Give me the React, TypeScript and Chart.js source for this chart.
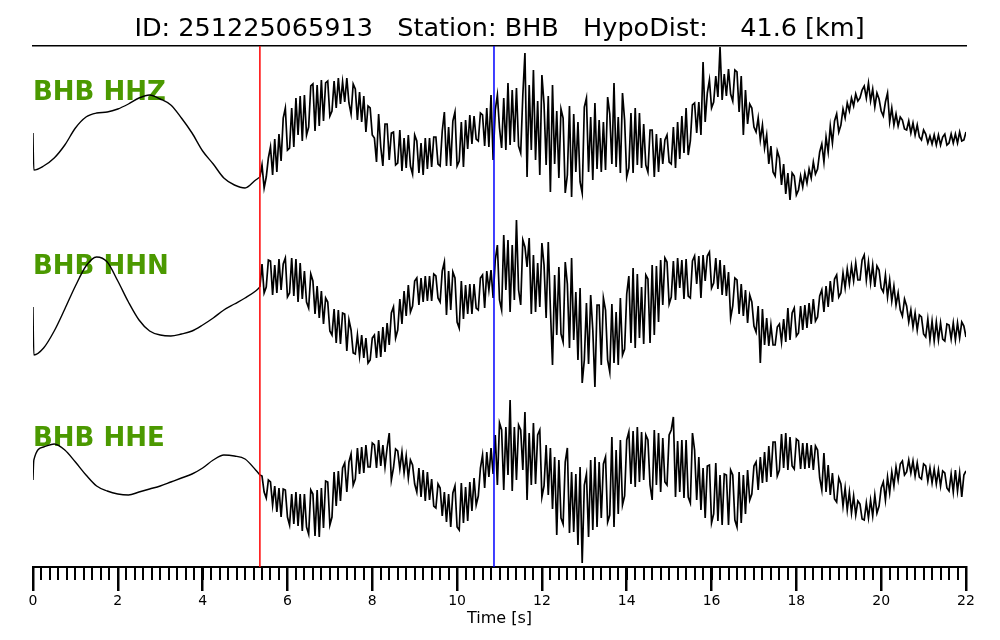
import React, { useEffect, useRef } from 'react';
import { Chart, registerables } from 'chart.js';

Chart.register(...registerables);

// ---------------- data ----------------
const titleText = 'ID: 251225065913   Station: BHB   HypoDist:    41.6 [km]';
const traceNames = ['BHB HHZ', 'BHB HHN', 'BHB HHE'];
const axisTitle = 'Time [s]';
const majorTicks = [0, 2, 4, 6, 8, 10, 12, 14, 16, 18, 20, 22];
const minorTickStep = 0.2;
const timeMin = 0;
const timeMax = 22;

// picks (s)
const pPick = 5.35;
const sPick = 10.87;

// quiet part of the record (before the P pick), sample times in s
const quietTimes = [0, 0.02, 0.25, 0.5, 0.75, 1, 1.25, 1.5, 1.75, 2, 2.25, 2.5, 2.75, 3, 3.25, 3.5, 3.75, 4, 4.25, 4.5, 4.75, 5, 5.25];
const hhzQuiet = [-3, -40, -36, -28, -15, 2, 13, 17, 18, 21, 26, 32, 35, 31, 25, 12, -3, -21, -34, -48, -55, -58, -50];
const hhnQuiet = [-7, -55, -48, -31, -9, 14, 34, 43, 38, 19, -2, -20, -31, -35, -36, -34, -31, -25, -18, -10, -4, 2, 9];
const hheQuiet = [-10, 10, 23, 26, 20, 8, -5, -16, -21, -24, -25, -22, -19, -16, -12, -8, -4, 2, 10, 15, 14, 11, 0];

// dense part of the record, from the P pick on, one sample every 0.05 s
const noisyStart = 5.35;
const noisyStep = 0.05;
const hhzNoisy = [
  -47, -35, -58, -47, -28, -17, -45, -9, -42, -4, -31, 12, 22, -20, -18, 22, -17, 32, -5, 34,
  -11, 35, -5, 3, 44, 46, -1, 45, 4, 50, 9, 47, 49, 14, 19, 49, 22, 52, 26, 48,
  28, 52, 27, 16, 46, 41, 10, 38, 8, 34, -2, 24, 22, -5, -8, -32, 16, -17, -36, 6,
  6, -30, -3, -2, -35, -33, 0, -41, -8, -38, -5, -36, -44, -5, -11, -43, -13, -45, -8, -39,
  -8, -37, -7, -7, -34, -36, -1, 18, -36, 3, -36, 9, 18, -36, -31, 8, -37, 10, -19, 15,
  -14, 14, -9, -11, 17, 15, -16, 22, -17, 35, -30, 20, 35, 2, -18, 32, -20, 47, -15, 40,
  -12, 42, -16, -23, 35, 77, -47, 45, -20, 60, -30, 29, -45, 55, 26, -35, 34, -62, 45, -34,
  19, -48, 21, 12, -63, -45, 24, -67, 16, -42, 8, -52, -63, 23, 32, -42, 13, -50, 27, -39,
  10, -42, 8, -40, 33, 16, -34, 47, -37, 13, -43, 37, 10, -47, -38, 17, -43, 22, -35, 17,
  -38, 6, -35, -42, 0, 0, -47, -4, -42, -8, -34, -10, -5, -32, -34, 3, -38, 8, -29, 14,
  -23, 22, -25, -11, 25, 27, -3, 28, -5, 68, 8, 37, 50, 22, 28, 54, 33, 83, 30, 56,
  34, 61, 36, 29, 60, 58, 18, 54, -5, 40, 6, 26, 22, 3, -2, 12, -10, 5, -18, -5,
  -34, -16, -42, -46, -21, -28, -55, -34, -64, -43, -70, -43, -46, -65, -60, -46, -57, -43, -53, -39,
  -48, -32, -44, -39, -22, -14, -32, -7, -22, 4, -13, 9, 16, -2, 5, 21, 12, 27, 19, 32,
  24, 36, 29, 32, 40, 44, 32, 47, 29, 41, 23, 37, 31, 19, 14, 28, 37, 8, 22, 5,
  16, 4, 13, 10, 1, 0, 9, -3, 7, -5, 5, -7, -10, 0, -4, -13, -6, -14, -5, -15,
  -5, -15, -7, -4, -15, -13, -4, -13, -4, -13, -2, -11, -10, -2,
];
const hhnNoisy = [
  13, 36, 7, 13, 40, 39, 5, 35, 7, 41, 10, 36, 42, 3, 7, 42, 4, 41, -2, 37,
  1, 29, -2, -8, 26, 19, -14, 14, -18, 9, -24, 2, -2, -31, -35, -9, -43, -10, -44, -13,
  -14, -51, -20, -30, -53, -54, -35, -56, -35, -58, -38, -63, -60, -38, -35, -58, -31, -57, -27, -52,
  -23, -45, -13, -7, -38, -30, 1, -24, 9, -16, 15, -12, -6, 19, 22, -5, 22, -2, 24, -1,
  24, -1, 26, 24, 2, -2, 29, 38, -15, 29, -10, 28, 22, -22, -28, 19, -19, 15, -14, 16,
  -14, 16, -8, -10, 22, 25, -8, 29, 10, 30, 2, 40, 55, 0, -10, 65, 10, 60, -12, 55,
  0, 80, 10, -5, 60, 53, 33, 62, -14, 45, -12, 37, -7, 57, 35, -18, 58, -9, -65, 25,
  -35, 33, -34, -42, 38, 16, -48, 42, -40, 8, -60, 12, -83, -60, -3, -64, 5, -30, -87, -5,
  -5, -65, 2, -10, -60, -72, -4, -63, -12, -65, 2, -55, -49, 6, 24, -43, 32, -48, 26, -38,
  13, -44, 25, 21, -43, 35, -35, 34, -22, 40, -5, 42, 38, -4, 3, 39, 0, 42, 12, 40,
  1, 41, 4, 2, 39, 44, 16, 44, 2, 45, 19, 44, 48, 12, 17, 42, 11, 40, 5, 35,
  4, 28, -18, -6, 22, 20, -14, 16, -16, 10, -23, 5, -2, -26, -32, -6, -63, -9, -45, -18,
  -46, -25, -45, -45, -27, -24, -42, -19, -42, -8, -40, -13, -8, -36, -33, -6, -30, -5, -28, -3,
  -24, 1, -21, -17, 4, 10, -12, 14, -7, 19, -2, 21, 25, 3, 7, 27, 12, 31, 16, 34,
  19, 37, 20, 20, 40, 45, 20, 38, 17, 35, 13, 34, 30, 12, 8, 25, 3, 20, -1, 14,
  -5, 7, -10, -16, 1, -6, -22, -10, -27, -13, -30, -15, -17, -34, -37, -19, -40, -21, -41, -22,
  -40, -23, -39, -41, -24, -25, -39, -23, -40, -23, -38, -22, -26, -37,
];
const hheNoisy = [
  -5, -6, -22, -28, -10, -12, -35, -16, -42, -18, -47, -19, -20, -47, -55, -24, -54, -22, -56, -24,
  -61, -24, -57, -64, -20, -24, -66, -20, -67, -18, -58, -11, -12, -55, -47, -2, -36, -1, -31, 2,
  7, -22, 8, 16, -15, -9, 22, -4, 23, -3, 25, 3, 3, 27, 25, 2, 30, 4, 25, 3,
  22, 37, -10, 2, 21, 19, 1, 18, -3, 14, -8, 10, 5, -14, -22, 2, -27, 0, -31, -2,
  -30, -9, -36, -38, -14, -18, -46, -22, -52, -24, -57, -23, -16, -57, -60, -13, -53, -17, -51, -12,
  -41, -8, -35, -26, 2, 15, -18, 18, -7, 22, -4, 35, -15, 47, 40, -20, 43, -5, 70, -21,
  43, -10, 45, 40, 0, 58, -30, 37, -15, 47, -14, 35, 40, -27, -16, 25, -25, 22, -39, 13,
  -65, 10, -48, -54, 8, 22, -63, -2, -62, -4, -75, 3, -93, -15, -4, -67, 10, -60, 13, -57,
  8, -48, 6, 13, -52, -45, 33, -57, 20, -44, 30, -35, -26, 30, 38, -14, 39, -17, 43, -12,
  38, -10, 35, 30, -15, -30, 40, -15, 37, -22, 32, -12, -15, 35, 40, 53, -27, 29, -22, 30,
  -28, 30, -27, -33, 37, 20, -30, 13, -40, 2, -48, 4, 5, -53, -44, 7, -51, -5, -55, -4,
  -5, -55, 0, -5, -50, -57, -2, -53, -5, -44, 0, -30, -24, 4, 8, -20, 13, -13, 18, -12,
  24, -7, 28, 28, -6, 0, 36, 2, 37, 0, 33, 4, 1, 31, 29, 1, 27, 1, 27, 2,
  25, 0, 24, 20, -8, -20, 17, -22, 5, -25, -3, -29, -32, -8, -14, -36, -18, -40, -22, -43,
  -26, -45, -31, -34, -49, -50, -33, -48, -30, -46, -25, -43, -36, -18, -12, -30, -7, -23, -2, -16,
  3, -10, 6, 9, -5, -2, 10, -3, 9, -6, 7, -7, -9, 6, 4, -11, 2, -13, 1, -14,
  0, -16, -1, -3, -18, -21, -4, -22, 0, -21, -3, -27, -5, -1,
];

// ---------------- layout / style ----------------
const Y_RANGE = 521; // one y unit per pixel of plot height
const traceOffsets = [437, 267, 97];
const labelBaselines = [467, 293, 121];
const FONT = '"DejaVu Sans", sans-serif';
const LABEL_COLOR = '#4b9900';

function quietSeries(quiet: number[], noisy: number[], offset: number) {
  const pts = quietTimes.map((t, i) => ({ x: t, y: offset + quiet[i] }));
  pts.push({ x: noisyStart, y: offset + noisy[0] });
  return pts;
}

function noisySeries(noisy: number[], offset: number) {
  return noisy.map((v, i) => ({ x: Math.round((noisyStart + i * noisyStep) * 1000) / 1000, y: offset + v }));
}

const labelPlugin = {
  id: 'traceLabels',
  beforeDatasetsDraw(chart: any) {
    const { ctx, scales } = chart;
    const xs = scales.x;
    const ys = scales.y;
    ctx.save();
    ctx.font = `bold 26px ${FONT}`;
    ctx.fillStyle = LABEL_COLOR;
    ctx.textBaseline = 'alphabetic';
    ctx.textAlign = 'left';
    traceNames.forEach((name, i) => {
      ctx.fillText(name, xs.getPixelForValue(timeMin), ys.getPixelForValue(labelBaselines[i]));
    });
    ctx.restore();
  },
};

export default function App() {
  const ref = useRef<HTMLCanvasElement>(null);

  useEffect(() => {
    if (!ref.current) return;
    Chart.defaults.font.family = FONT;
    const quiet = [hhzQuiet, hhnQuiet, hheQuiet];
    const noisy = [hhzNoisy, hhnNoisy, hheNoisy];
    const quietSets = traceNames.map((name, i) => ({
      label: name + ' pre-event',
      data: quietSeries(quiet[i], noisy[i], traceOffsets[i]),
      borderColor: '#000000',
      borderWidth: 1.4,
      pointRadius: 0,
      cubicInterpolationMode: 'monotone' as const,
      fill: false,
      order: 1,
    }));
    const noisySets = traceNames.map((name, i) => ({
      label: name,
      data: noisySeries(noisy[i], traceOffsets[i]),
      borderColor: '#000000',
      borderWidth: 1.7,
      borderJoinStyle: 'miter' as const,
      pointRadius: 0,
      tension: 0,
      fill: false,
      order: 1,
    }));
    const pickSets = [
      { label: 'P', data: [{ x: pPick, y: 0 }, { x: pPick, y: Y_RANGE }], borderColor: '#ff0000', borderWidth: 1.5, pointRadius: 0, order: 0 },
      { label: 'S', data: [{ x: sPick, y: 0 }, { x: sPick, y: Y_RANGE }], borderColor: '#0000ff', borderWidth: 1.5, pointRadius: 0, order: 0 },
    ];
    const minorTicks = Array.from({ length: Math.round((timeMax - timeMin) / minorTickStep) + 1 }, (_, i) =>
      Math.round((timeMin + i * minorTickStep) * 1000) / 1000
    );

    const chart = new Chart(ref.current, {
      type: 'line',
      data: { datasets: [...quietSets, ...noisySets, ...pickSets] as any },
      options: {
        responsive: false,
        devicePixelRatio: 1,
        animation: false,
        events: [],
        layout: { padding: { left: 33, right: 34, top: 0, bottom: 73 } },
        plugins: {
          legend: { display: false },
          tooltip: { enabled: false },
          title: {
            display: true,
            text: titleText,
            color: '#000000',
            font: { family: FONT, size: 25.5, weight: 'normal' as any, lineHeight: 1.2 },
            padding: { top: 14, bottom: 1.4 },
          },
        },
        scales: {
          x: {
            type: 'linear',
            axis: 'x',
            min: timeMin,
            max: timeMax,
            position: { y: 0 } as any,
            afterBuildTicks: (s: any) => {
              s.ticks = majorTicks.map((v) => ({ value: v }));
            },
            ticks: { color: '#000000', font: { family: FONT, size: 14 }, padding: 3, maxRotation: 0, autoSkip: false },
            grid: { drawOnChartArea: false, drawTicks: true, tickLength: 23, tickWidth: 2.5, lineWidth: 2.5, tickColor: '#000000' },
            border: { display: true, color: '#000000', width: 2 },
            title: { display: true, text: axisTitle, color: '#000000', font: { family: FONT, size: 16 }, padding: { top: -4, bottom: 0 } },
          },
          xMinor: {
            type: 'linear',
            axis: 'x',
            min: timeMin,
            max: timeMax,
            position: { y: 0 } as any,
            afterBuildTicks: (s: any) => {
              s.ticks = minorTicks.map((v) => ({ value: v }));
            },
            ticks: { display: false },
            grid: { drawOnChartArea: false, drawTicks: true, tickLength: 13, tickWidth: 2, lineWidth: 2, tickColor: '#000000' },
            border: { display: false },
          },
          xTop: {
            type: 'linear',
            axis: 'x',
            min: timeMin,
            max: timeMax,
            position: { y: Y_RANGE } as any,
            ticks: { display: false },
            grid: { display: false, drawTicks: false },
            border: { display: true, color: '#000000', width: 1.5 },
          },
          y: {
            type: 'linear',
            display: false,
            min: 0,
            max: Y_RANGE,
          },
        },
      },
      plugins: [labelPlugin],
    });
    return () => chart.destroy();
  }, []);

  return (
    <div style={{ position: 'fixed', left: 0, top: 0, width: 1000, height: 640, background: '#ffffff' }}>
      <canvas ref={ref} width={1000} height={640} style={{ display: 'block', width: 1000, height: 640 }} />
    </div>
  );
}
